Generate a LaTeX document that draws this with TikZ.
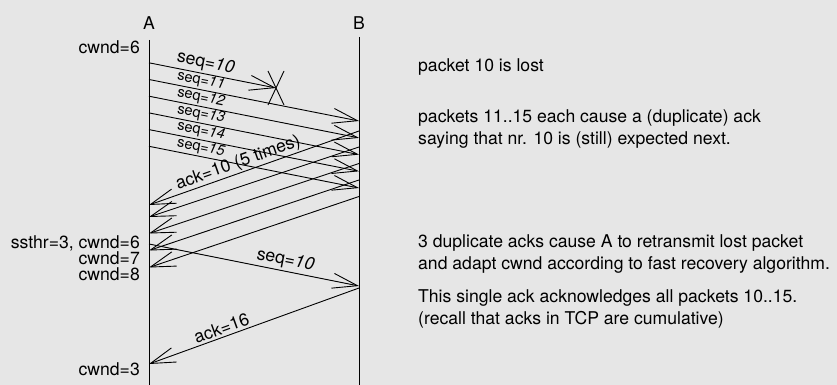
\documentclass[tikz,border=0pt]{standalone}
\usepackage{fontspec}
\setmainfont{TeX Gyre Heros}
\usetikzlibrary{arrows.meta}
\definecolor{paper}{HTML}{E6E6E6}
\begin{document}
\begin{tikzpicture}[x=1pt,y=-1pt,
  every node/.style={inner sep=0pt, font=\fontsize{17.6}{22}\selectfont},
  small/.style={font=\fontsize{14.5}{17}\selectfont},
  lifeline/.style={line width=0.9pt},
  msg/.style={line width=0.9pt, -{Straight Barb[length=25pt,width=15pt]}},
  ackmsg/.style={line width=0.9pt, {Straight Barb[length=25pt,width=15pt]}-},
  note/.style={anchor=base west},
  state/.style={anchor=base east},
]
% canvas
\fill[paper] (0,0) rectangle (837,385);
\useasboundingbox (0,0) rectangle (837,385);

% hosts and their time lines
\node[anchor=base] (A) at (149,29.3) {A};
\node[anchor=base] (B) at (359,29.3) {B};
\coordinate (Atop) at (149,40);  \coordinate (Abot) at (149,385);
\coordinate (Btop) at (359,37);  \coordinate (Bbot) at (359,385);
\draw[lifeline] (Atop) -- (Abot);
\draw[lifeline] (Btop) -- (Bbot);

% send times at A
\coordinate (s10) at (149,62.8);
\coordinate (s11) at (149,79.5);
\coordinate (s12) at (149,96.2);
\coordinate (s13) at (149,112.9);
\coordinate (s14) at (149,129.6);
\coordinate (s15) at (149,146.3);
% arrival times at B
\coordinate (r11) at (359,121);
\coordinate (r12) at (359,137.9);
\coordinate (r13) at (359,154.6);
\coordinate (r14) at (359,171.3);
\coordinate (r15) at (359,188);
% the point where packet 10 gets dropped
\coordinate (lost) at (276,88);

% duplicate acks: departure at B, arrival at A
\coordinate (d1) at (359,131);   \coordinate (k1) at (149,205);
\coordinate (d2) at (359,147);   \coordinate (k2) at (149,217);
\coordinate (d3) at (359,163.5); \coordinate (k3) at (149,233.5);
\coordinate (d4) at (359,180);   \coordinate (k4) at (149,250.5);
\coordinate (d5) at (359,196.5); \coordinate (k5) at (149,267.5);

% retransmission and the final cumulative ack
\coordinate (rs) at (149,244);  \coordinate (rr) at (359,286);
\coordinate (fs) at (359,288);  \coordinate (fr) at (149,364);

% first window
\draw[msg] (s10) -- (lost) node[pos=0.43, sloped, above=2pt] (l10) {seq=\textit{10}};
\draw[msg] (s11) -- (r11) node[small, pos=0.24, sloped, above=1.5pt] (l11) {seq=\textit{11}};
\draw[msg] (s12) -- (r12) node[small, pos=0.24, sloped, above=1.5pt] (l12) {seq=\textit{12}};
\draw[msg] (s13) -- (r13) node[small, pos=0.24, sloped, above=1.5pt] (l13) {seq=\textit{13}};
\draw[msg] (s14) -- (r14) node[small, pos=0.24, sloped, above=1.5pt] (l14) {seq=\textit{14}};
\draw[msg] (s15) -- (r15) node[small, pos=0.24, sloped, above=1.5pt] (l15) {seq=\textit{15}};

% loss marker
\draw[lifeline] ([shift={(-8,-17)}]lost) -- ([shift={(8,17)}]lost);
\draw[lifeline] ([shift={(8,-17)}]lost) -- ([shift={(-8,17)}]lost);

% duplicate acks
\draw[ackmsg] (k1) -- (d1) node[pos=0.44, sloped, above=1pt] (lack) {ack=10 (5 times)};
\draw[ackmsg] (k2) -- (d2);
\draw[ackmsg] (k3) -- (d3);
\draw[ackmsg] (k4) -- (d4);
\draw[ackmsg] (k5) -- (d5);

% fast retransmit and cumulative ack
\draw[msg] (rs) -- (rr) node[pos=0.64, sloped, above=2pt] (lre) {seq=\textit{10}};
\draw[ackmsg] (fr) -- (fs) node[pos=0.36, sloped, above=2pt] (lfin) {ack=16};

% congestion window states at A
\node[state] (w1) at (140,54)    {cwnd=6};
\node[state] (w2) at (140,248.5) {ssthr=3, cwnd=6};
\node[state] (w3) at (140,264)   {cwnd=7};
\node[state] (w4) at (140,280)   {cwnd=8};
\node[state] (w5) at (140,375)   {cwnd=3};

% explanations
\node[note] (n1)  at (418,72)  {packet 10 is lost};
\node[note] (n2a) at (418,122) {packets 11..15 each cause a (duplicate) ack};
\node[note] (n2b) at (418,144) {saying that nr. 10 is (still) expected next.};
\node[note] (n3a) at (418,247) {3 duplicate acks cause A to retransmit lost packet};
\node[note] (n3b) at (418,269) {and adapt cwnd according to fast recovery algorithm.};
\node[note] (n4a) at (418,302) {This single ack acknowledges all packets 10..15.};
\node[note] (n4b) at (418,324) {(recall that acks in TCP are cumulative)};
\end{tikzpicture}
\end{document}
